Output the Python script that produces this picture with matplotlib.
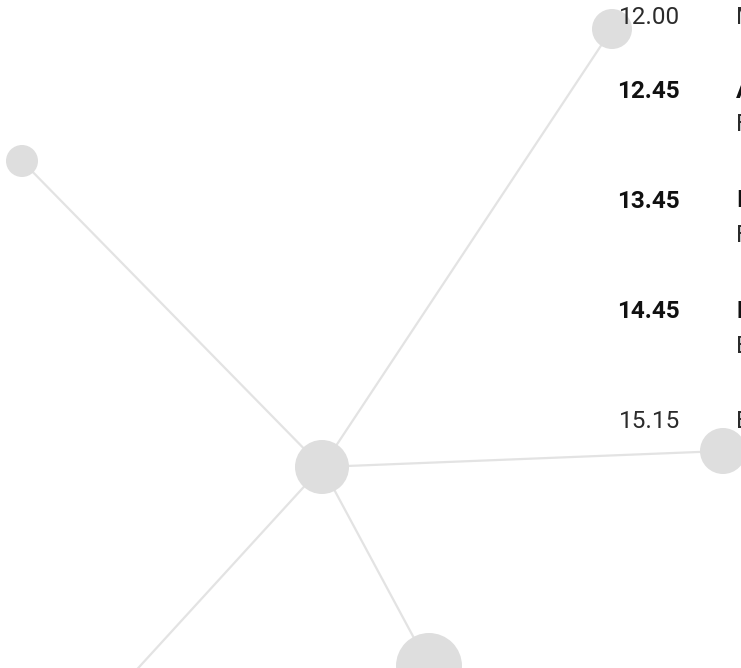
import matplotlib
matplotlib.use("Agg")
import matplotlib.pyplot as plt
from matplotlib.patches import Circle

# Network nodes (pixel coordinates in a 741x668 canvas) and radii
node_x = [322, 612, 22, 723, 429, 77]
node_y = [467, 29, 161, 451, 666, 735]
node_r = [27, 20, 16, 23, 33, 22]
# edges as (from, to) node indices
edges = [(0, 1), (0, 2), (0, 3), (0, 4), (0, 5)]

# Schedule text
times = ["12.00", "12.45", "13.45", "14.45", "15.15"]
time_bold = [False, True, True, True, False]
titles = ["Mittagessen", "Ankunft", "Impulsvortrag", "Diskussion", "Ende"]
subtitles = ["", "Foyer", "Festsaal", "Besprechungsraum", ""]

W, H = 741, 668
fig = plt.figure(figsize=(W / 100, H / 100), dpi=100)
ax = fig.add_axes([0, 0, 1, 1])
ax.set_xlim(0, W)
ax.set_ylim(H, 0)
ax.axis("off")

edge_col = "#e3e3e3"
node_col = "#dedede"
for a, b in edges:
    ax.plot([node_x[a], node_x[b]], [node_y[a], node_y[b]], color=edge_col,
            lw=1.6, solid_capstyle="butt", zorder=1)
for x, y, r in zip(node_x, node_y, node_r):
    ax.add_patch(Circle((x, y), r, facecolor=node_col, edgecolor="none", zorder=2))

fam = ["Roboto", "DejaVu Sans"]
time_y = [17.5, 91, 201, 312, 422]
sub_y = [None, 124, 236, 347, None]
fs = 17.5
light_col = "#2b2b2b"
for t, b, ti, su, ty, sy in zip(times, time_bold, titles, subtitles, time_y, sub_y):
    w = "bold" if b else "normal"
    col = "#111111" if b else light_col
    ax.text(680, ty, t, ha="right", va="center", fontsize=fs, fontweight=w,
            color=col, family=fam, zorder=3)
    ax.text(736, ty, ti, ha="left", va="center", fontsize=fs, fontweight=w,
            color=col, family=fam, zorder=3)
    if su:
        ax.text(736, sy, su, ha="left", va="center", fontsize=fs,
                fontweight="normal", color=light_col, family=fam, zorder=3)

fig.savefig("out.png", dpi=100, facecolor="white")
